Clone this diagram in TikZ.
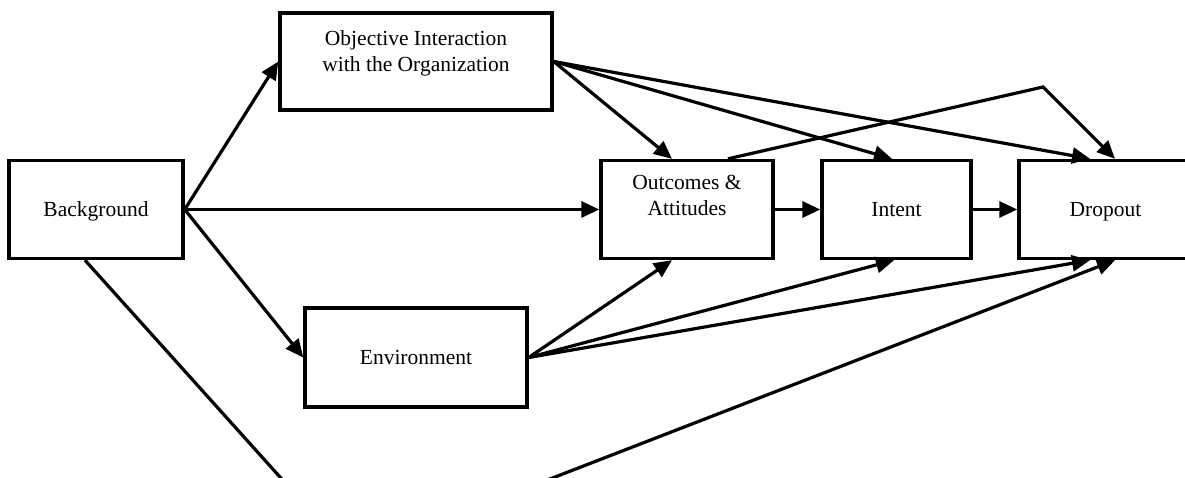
\documentclass[tikz,border=0pt]{standalone}
\usepackage{fontspec}
\setmainfont{Liberation Serif}
\usetikzlibrary{arrows.meta}
\begin{document}
\begin{tikzpicture}[x=1pt,y=-1pt,
  box/.style={draw, line width=3.4pt, inner sep=0pt, minimum height=98pt,
    font=\fontsize{21.5}{26.5}\selectfont, text height=14pt, text depth=0pt},
  txt/.style={inner sep=0pt, font=\fontsize{21.5}{26.5}\selectfont, align=center},
  link/.style={line width=3.2pt, -{Triangle[length=18pt,width=16pt]}}]
\useasboundingbox (0,0) rectangle (1185,478);
\clip (0,0) rectangle (1185,478);
\fill[white] (0,0) rectangle (1185,478);
% boxes
\node[box, minimum width=174pt] (bg) at (96,209.5) {Background};
\node[box, minimum width=272pt, minimum height=97pt] (obj) at (416,61.5) {};
\node[txt, anchor=north] (objt) at (416,30) {Objective Interaction\\with the Organization};
\node[box, minimum width=222pt, minimum height=99pt] (env) at (416,357.5) {Environment};
\node[box, minimum width=172pt] (outc) at (687,209.5) {};
\node[txt, anchor=north] (outct) at (687,175) {Outcomes \&\\Attitudes};
\node[box, minimum width=149pt] (intent) at (896.5,209.5) {Intent};
\node[box, minimum width=173pt] (drop) at (1105.5,209.5) {Dropout};
% connectors
\draw[link] (bg.east) -- (obj.west);
\draw[link] (bg.east) -- (outc.west);
\draw[link] (bg.east) -- (env.west);
\draw[link] (obj.east) -- ([xshift=-15pt]outc.north);
\draw[link] (obj.east) -- ([xshift=-4.5pt]intent.north);
\draw[link] (obj.east) -- ([xshift=-15.5pt]drop.north);
\coordinate (peak) at (1043,87);
\draw[link] ([xshift=41pt]outc.north) -- (peak) -- ([xshift=9.5pt]drop.north);
\draw[link] (outc.east) -- (intent.west);
\draw[link] (intent.east) -- (drop.west);
\draw[link] (env.east) -- ([xshift=-15pt]outc.south);
\draw[link] (env.east) -- ([xshift=-2.5pt]intent.south);
\draw[link] (env.east) -- ([xshift=-15.5pt]drop.south);
\coordinate (vee) at (351,556);
\draw[link] ([xshift=-11pt]bg.south) -- (vee) -- ([xshift=9.5pt]drop.south);
\end{tikzpicture}
\end{document}
